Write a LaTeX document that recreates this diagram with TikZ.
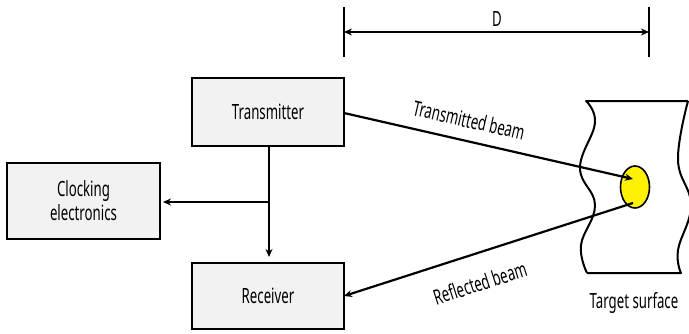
\documentclass[tikz,border=0pt]{standalone}
\usepackage{fontspec}
\setmainfont{Noto Sans}[FakeStretch=0.63]
\usetikzlibrary{arrows.meta,shapes.geometric}
\begin{document}
\begin{tikzpicture}[x=1pt,y=-1pt,
  blockbox/.style={draw=black,line width=2.4pt,fill=black!5,inner sep=0pt,align=center,font=\fontsize{21}{24}\selectfont},
  conn/.style={line width=2.2pt,-{Stealth[length=8pt,width=7pt]}},
  lbl/.style={font=\fontsize{21}{24}\selectfont,inner sep=0pt}]
\useasboundingbox (0,0) rectangle (689,333);
% blocks
\node[blockbox,minimum width=152,minimum height=68] (tx) at (268,112) {Transmitter};
\node[blockbox,minimum width=153,minimum height=76] (clk) at (83.5,201) {Clocking\\electronics};
\node[blockbox,minimum width=152,minimum height=66] (rx) at (268,296) {Receiver};
% internal connectors
\coordinate (txb) at (269,146);
\coordinate (rxt) at (269,257);
\coordinate (br) at (269,202);
\coordinate (clkt) at (163,202);
\draw[conn] (txb) -- (rxt);
\draw[conn] (br) -- (clkt);
% target surface
\draw[line width=2pt,line join=round]
  plot[smooth,tension=0.7] coordinates {(587,273) (581,245) (595,205) (580,168) (595,123) (586,101)}
  -- (688,101)
  plot[smooth,tension=0.7] coordinates {(688,101) (678,160) (691,205) (678,250) (681,273)}
  -- (587,273);
\node[ellipse,draw=black,line width=1.6pt,fill=yellow,minimum width=29,minimum height=42,inner sep=0pt] (spot) at (635,187) {};
\coordinate (hitin) at (633,179);
\coordinate (hitout) at (633,203);
\coordinate (txo) at (344,113);
\coordinate (rxi) at (344,296);
\draw[conn] (txo) -- (hitin);
\draw[conn] (hitout) -- (rxi);
\node[lbl,rotate=-12.9] (tlab) at (469,120) {Transmitted beam};
\node[lbl,rotate=17.8] (rlab) at (480,283) {Reflected beam};
\node[lbl] (tgt) at (634,303) {Target surface};
% dimension
\coordinate (d1t) at (344,7);
\coordinate (d1b) at (344,57);
\coordinate (d2t) at (649,7);
\coordinate (d2b) at (649,57);
\coordinate (d1) at (344,32);
\coordinate (d2) at (649,32);
\draw[line width=2pt] (d1t) -- (d1b);
\draw[line width=2pt] (d2t) -- (d2b);
\draw[line width=2.2pt,{Stealth[length=8pt,width=7pt]}-{Stealth[length=8pt,width=7pt]}] (d1) -- (d2);
\node[lbl] (dl) at (497,19) {D};
\end{tikzpicture}
\end{document}
